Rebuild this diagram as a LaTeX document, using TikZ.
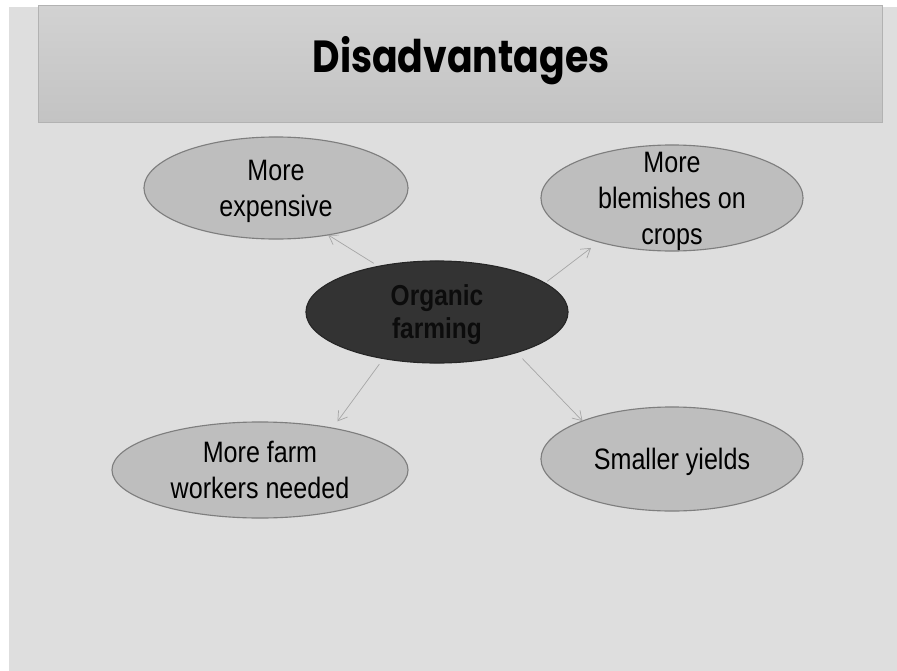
\documentclass[tikz,border=0pt]{standalone}
\usepackage{fontspec}
\setmainfont{Liberation Sans}
\newfontfamily\headfont{Poppins}
\usetikzlibrary{
  arrows.meta,
  shapes.geometric,
  positioning
}
\definecolor{slideGrey}{HTML}{DEDEDE}
\definecolor{bannerTop}{HTML}{D2D2D2}
\definecolor{bannerBot}{HTML}{C3C3C3}
\definecolor{bannerEdge}{HTML}{B2B2B2}
\definecolor{bubbleFill}{HTML}{BEBEBE}
\definecolor{bubbleEdge}{HTML}{7E7E7E}
\definecolor{coreFill}{HTML}{333333}
\definecolor{coreEdge}{HTML}{262626}
\definecolor{coreText}{HTML}{0C0C0C}
\definecolor{linkGrey}{HTML}{A6A6A6}
% narrow set text, lines stacked, not counted in the bubble size
\newcommand\narrowtext[1]{\smash{\raisebox{-7.5pt}{\scalebox{0.85}[1]{\begin{tabular}{@{}c@{}}#1\end{tabular}}}}}
\tikzset{
  bubble/.style={
    ellipse, draw=bubbleEdge, fill=bubbleFill, line width=0.8pt,
    inner sep=0pt, outer sep=0pt, align=center,
    font=\fontsize{21}{25.5}\selectfont
  },
  core/.style={
    bubble, draw=coreEdge, fill=coreFill, text=coreText,
    font=\fontsize{20.5}{24}\selectfont\bfseries
  },
  link/.style={-{Straight Barb[length=2.2mm, width=2.8mm]}, draw=linkGrey, line width=0.5pt},
  banner/.style={draw=bannerEdge, line width=0.6pt, top color=bannerTop, bottom color=bannerBot},
}

\begin{document}
\begin{tikzpicture}[x=0.025cm, y=-0.025cm]
\useasboundingbox (0,0) rectangle (897,671);

% --- slide background and heading bar ---
\fill[slideGrey] (9,7) rectangle (897,671);
\draw[banner] (38,5) rectangle (882,122);
\node[font=\headfont\bfseries\fontsize{32}{32}\selectfont] (head) at (461,61)
  {\scalebox{0.84}[1]{Disadvantages}};

% --- bubbles ---
\node[core, minimum width=6.55cm, minimum height=2.55cm] (org) at (437,312) {\narrowtext{Organic\\farming}};

\node[bubble, minimum width=6.6cm, minimum height=2.55cm] (exp) at (276,188) {\narrowtext{More\\expensive}};
\node[bubble, minimum width=6.55cm, minimum height=2.65cm] (blem) at (672,198) {\narrowtext{More\\blemishes on\\crops}};
\node[bubble, minimum width=7.4cm, minimum height=2.4cm] (farm) at (260,470) {\narrowtext{More farm\\workers needed}};
\node[bubble, minimum width=6.55cm, minimum height=2.6cm] (yield) at (672,459) {\narrowtext{Smaller yields}};

% --- arrows out of the centre ---
\draw[link, shorten <=4pt] (org.142) -- (exp.-42);
\draw[link, shorten <=2pt, shorten >=7pt] (org.15) -- (blem.211);
\draw[link, shorten <=5pt, shorten >=6pt] (org.221) -- (farm.30);
\draw[link, shorten <=6pt] (org.-27) -- (yield.157);

\end{tikzpicture}
\end{document}
